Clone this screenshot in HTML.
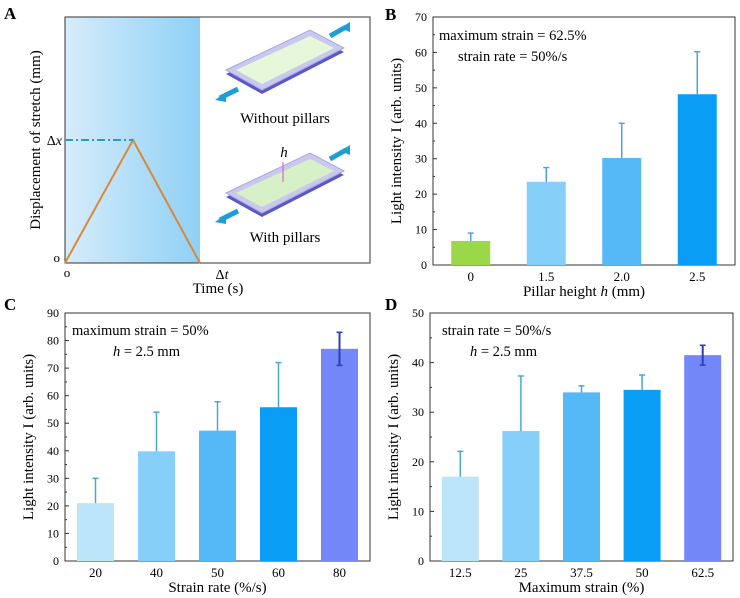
<!DOCTYPE html>
<html><head><meta charset="utf-8"><style>
body{margin:0;background:#fff}
svg{display:block;font-family:"Liberation Serif",serif}
</style></head><body>
<svg id="fig" width="740" height="598" viewBox="0 0 740 598">
<defs>
<linearGradient id="ga" x1="0" x2="1" y1="0" y2="0"><stop offset="0" stop-color="#d6ecfb"/><stop offset="1" stop-color="#8fd0f5"/></linearGradient>
</defs>
<g>
<text x="4" y="19" font-weight="bold" font-size="17">A</text>
<rect x="65" y="17" width="135" height="246" fill="url(#ga)"/>
<rect x="65" y="17" width="305" height="246" fill="none" stroke="#333" stroke-width="1"/>
<polyline points="65,263 133,140 200,263" fill="none" stroke="#d9893a" stroke-width="2"/>
<line x1="65" y1="140" x2="133" y2="140" stroke="#2a9bc5" stroke-width="2" stroke-dasharray="8,3,2,3"/>
<text x="62" y="145" text-anchor="end" font-size="14">Δ<tspan font-style="italic">x</tspan></text>
<text x="60" y="262" text-anchor="end" font-size="13">o</text>
<text x="67" y="277" text-anchor="middle" font-size="13">o</text>
<text x="222" y="279" text-anchor="middle" font-size="14">Δ<tspan font-style="italic">t</tspan></text>
<text x="218" y="293" text-anchor="middle" font-size="15">Time (s)</text>
<text transform="translate(40,140) rotate(-90)" text-anchor="middle" font-size="15">Displacement of stretch (mm)</text>
<g>
<polygon points="226,74 310,34 344,52 262,94" fill="#5a57c8"/>
<polygon points="226,70 310,30 344,48 262,90" fill="#c9c9ee" stroke="#a8a8e0"/>
<polygon points="236,70 310,36 334,48 262,84" fill="#e6f7da"/>
<polygon points="340,28 350,22 350,32" fill="#1b9fd6"/><line x1="330" y1="36" x2="346" y2="27" stroke="#1b9fd6" stroke-width="5"/>
<polygon points="215,100 226,92 226,102" fill="#1b9fd6"/><line x1="220" y1="98" x2="238" y2="89" stroke="#1b9fd6" stroke-width="5"/>
<text x="285" y="123" text-anchor="middle" font-size="15">Without pillars</text>
</g>
<g>
<polygon points="226,197 310,157 344,175 262,217" fill="#5a57c8"/>
<polygon points="226,193 310,153 344,171 262,213" fill="#c9c9ee" stroke="#a8a8e0"/>
<polygon points="236,193 310,159 334,171 262,207" fill="#d8f0c8"/>
<line x1="283" y1="162" x2="283" y2="182" stroke="#e050c0" stroke-width="1"/>
<text x="284" y="157" text-anchor="middle" font-size="15" font-style="italic">h</text>
<polygon points="340,151 350,145 350,155" fill="#1b9fd6"/><line x1="330" y1="159" x2="346" y2="150" stroke="#1b9fd6" stroke-width="5"/>
<polygon points="215,222 226,214 226,224" fill="#1b9fd6"/><line x1="220" y1="220" x2="238" y2="211" stroke="#1b9fd6" stroke-width="5"/>
<text x="285" y="242" text-anchor="middle" font-size="15">With pillars</text>
</g>
</g>
<g id="charts"></g>
</svg>
<script>
const catsB=["0","1.5","2.0","2.5"];
const valsB=[6.8,23.5,30.2,48.2];
const errB=[2.2,4.0,9.8,12.0];
const colsB=["#9ad84a","#86cff8","#55b9f8","#0a9df5"];
const ticksB=[0,10,20,30,40,50,60,70];
const catsC=["20","40","50","60","80"];
const valsC=[21,39.8,47.3,55.8,77];
const errC=[9,14.2,10.5,16.2,6];
const ticksC=[0,10,20,30,40,50,60,70,80,90];
const catsD=["12.5","25","37.5","50","62.5"];
const valsD=[17,26.2,34,34.5,41.5];
const errD=[5.1,11.1,1.3,3,2];
const ticksD=[0,10,20,30,40,50];
const colsCD=["#bde5fa","#86cff8","#55b9f8","#0a9df5","#7387f8"];
const NS="http://www.w3.org/2000/svg";
const root=document.getElementById('charts');
function mk(t,a,p){const e=document.createElementNS(NS,t);for(const k in a)e.setAttribute(k,a[k]);(p||root).appendChild(e);return e;}
function chart(o){
  const g=mk('g',{});
  
  
  const ys=v=>o.b-(v/o.max)*(o.b-o.t);
  const xs=i=>o.l+(o.r-o.l)*(i+0.5)/o.cats.length;
  const fr=mk('rect',{x:o.l,y:o.t,width:o.r-o.l,height:o.b-o.t,fill:'none',stroke:'#333','stroke-width':1},g);
  
  
  o.ticks.forEach((v,k)=>{
    mk('line',{x1:o.l,x2:o.l+4,y1:ys(v),y2:ys(v),stroke:'#333'},g);
    if(k<o.ticks.length-1){const m=(v+o.ticks[k+1])/2;mk('line',{x1:o.l,x2:o.l+2,y1:ys(m),y2:ys(m),stroke:'#333'},g);}
    const t=mk('text',{x:o.l-6,y:ys(v)+4,'text-anchor':'end','font-size':12},g);t.textContent=v;
    
    
  });
  o.cats.forEach((c,i)=>{
    const x=xs(i),v=o.vals[i],e=o.errs[i],col=o.cols[i];
    const r=mk('rect',{x:x-o.w/2,y:ys(v),width:o.w,height:o.b-ys(v),fill:col},g);
    
    
    const both=o.both&&o.both[i];
    const ec=both?'#2840b0':'#4aa6d8';
    const ey=mk('line',{x1:x,x2:x,y1:ys(v+e),y2:both?ys(v-e):ys(v),stroke:ec,'stroke-width':both?2:1.5},g);
    
    
    mk('line',{x1:x-3,x2:x+3,y1:ys(v+e),y2:ys(v+e),stroke:ec,'stroke-width':1.5},g);
    if(both)mk('line',{x1:x-3,x2:x+3,y1:ys(v-e),y2:ys(v-e),stroke:ec,'stroke-width':1.5},g);
    const t=mk('text',{x:x,y:o.b+16,'text-anchor':'middle','font-size':13},g);t.textContent=c;
    
    
  });
  const xt=mk('text',{x:(o.l+o.r)/2,y:o.b+31,'text-anchor':'middle','font-size':15},g);xt.innerHTML=o.xt;
  
  
  const yt=mk('text',{transform:`translate(${o.l-32},${(o.t+o.b)/2}) rotate(-90)`,'text-anchor':'middle','font-size':15},g);yt.textContent='Light intensity I (arb. units)';
  
  
  o.notes.forEach((n,k)=>{const t=mk('text',{x:n[0],y:n[1],'font-size':14.5},g);t.innerHTML=n[2];
    
    });
  const pl=mk('text',{x:o.pl[0],y:o.pl[1],'font-size':17,'font-weight':'bold'},g);pl.textContent=o.label;
  
  
}
chart({name:'panel-b',label:'B',pl:[385,20],l:433,r:735,t:17,b:265,max:70,cats:catsB,vals:valsB,errs:errB,cols:colsB,w:39,ticks:ticksB,xt:'Pillar height <tspan font-style="italic">h</tspan> (mm)',notes:[[439,40,'maximum strain = 62.5%'],[458,61,'strain rate = 50%/s']]});
chart({name:'panel-c',label:'C',pl:[4,310],l:65,r:370,t:313,b:561,max:90,cats:catsC,vals:valsC,errs:errC,cols:colsCD,w:37,ticks:ticksC,both:[0,0,0,0,1],xt:'Strain rate (%/s)',notes:[[72,335,'maximum strain = 50%'],[113,356,'<tspan font-style="italic">h</tspan> = 2.5 mm']]});
chart({name:'panel-d',label:'D',pl:[385,310],l:430,r:733,t:313,b:561,max:50,cats:catsD,vals:valsD,errs:errD,cols:colsCD,w:37,ticks:ticksD,both:[0,0,0,0,1],xt:'Maximum strain (%)',notes:[[442,335,'strain rate = 50%/s'],[470,356,'<tspan font-style="italic">h</tspan> = 2.5 mm']]});
</script>
</body></html>
